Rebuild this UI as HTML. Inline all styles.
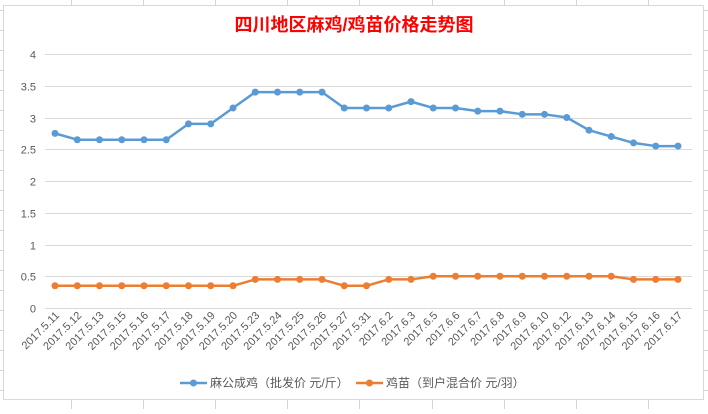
<!DOCTYPE html>
<html><head><meta charset="utf-8"><style>
body{margin:0;background:#fff;width:708px;height:409px;overflow:hidden;font-family:"Liberation Sans","Noto Sans CJK SC",sans-serif}
</style></head><body>
<svg width="708" height="409" xmlns="http://www.w3.org/2000/svg">
<g id="sheet" stroke="#d4d4d4" stroke-width="1"></g>
<rect x="3.5" y="5.5" width="700" height="394" fill="#fff" stroke="#d9d9d9"/>
<text x="354" y="31" text-anchor="middle" font-size="18" font-weight="bold" fill="#ff0000" font-family="Liberation Sans,'Noto Sans CJK SC',sans-serif">四川地区麻鸡/鸡苗价格走势图</text>
<g id="grid"></g>
<g id="ylab" font-size="11" fill="#595959" text-anchor="end"></g>
<g id="xlab" font-size="11" fill="#595959" text-anchor="end"></g>
<g id="series"></g>
<g font-size="12" fill="#595959">
<g><line x1="180" y1="383" x2="207" y2="383" stroke="#5b9bd5" stroke-width="2.5"/><circle cx="193.5" cy="383" r="3.5" fill="#5b9bd5"/><text x="210" y="387">麻公成鸡（批发价 元/斤）</text></g>
<g><line x1="356" y1="383" x2="383" y2="383" stroke="#ed7d31" stroke-width="2.5"/><circle cx="369.5" cy="383" r="3.5" fill="#ed7d31"/><text x="386" y="387">鸡苗（到户混合价 元/羽）</text></g>
</g>
</svg>
<script>
const categories=["2017.5.11","2017.5.12","2017.5.13","2017.5.15","2017.5.16","2017.5.17","2017.5.18","2017.5.19","2017.5.20","2017.5.23","2017.5.24","2017.5.25","2017.5.26","2017.5.27","2017.5.31","2017.6.2","2017.6.3","2017.6.5","2017.6.6","2017.6.7","2017.6.8","2017.6.9","2017.6.10","2017.6.12","2017.6.13","2017.6.14","2017.6.15","2017.6.16","2017.6.17"];
const broiler=[2.75,2.65,2.65,2.65,2.65,2.65,2.9,2.9,3.15,3.4,3.4,3.4,3.4,3.15,3.15,3.15,3.25,3.15,3.15,3.1,3.1,3.05,3.05,3.0,2.8,2.7,2.6,2.55,2.55];
const chick=[0.35,0.35,0.35,0.35,0.35,0.35,0.35,0.35,0.35,0.45,0.45,0.45,0.45,0.35,0.35,0.45,0.45,0.5,0.5,0.5,0.5,0.5,0.5,0.5,0.5,0.5,0.45,0.45,0.45];
const yTicks=["0","0.5","1","1.5","2","2.5","3","3.5","4"];
const NS="http://www.w3.org/2000/svg";
const x0=55,x1=678,yb=308,yt=54,ymax=4;
const X=i=>x0+(x1-x0)*i/(categories.length-1);
const Y=v=>yb-(yb-yt)*v/ymax;
function mk(t,a,p){const e=document.createElementNS(NS,t);for(const k in a)e.setAttribute(k,a[k]);p.appendChild(e);return e;}
const sheet=document.getElementById('sheet');
for(let c=71;c<708;c+=72.1){const l=mk('line',{x1:Math.round(c)+.5,y1:0,x2:Math.round(c)+.5,y2:409},sheet);

}
for(let r=10;r<409;r+=20){const l=mk('line',{x1:0,y1:r+.5,x2:708,y2:r+.5},sheet);

}
const grid=document.getElementById('grid'),yl=document.getElementById('ylab');
yTicks.forEach(t=>{const y=Math.round(Y(+t))+.5;
const l=mk('line',{x1:45,y1:y,x2:692,y2:y,stroke:'#d9d9d9'},grid);


const tx=mk('text',{x:36,y:y+4},yl);tx.textContent=t;

});
const xl=document.getElementById('xlab');
categories.forEach((c,i)=>{const x=X(i)+5,y=316;
const t=mk('text',{x:x,y:y,transform:`rotate(-45 ${x} ${y})`},xl);t.textContent=c;

});
const ser=document.getElementById('series');
[[broiler,'#5b9bd5','broiler'],[chick,'#ed7d31','chick']].forEach(([d,col,n])=>{
const g=mk('g',{},ser);


const p=mk('polyline',{points:d.map((v,i)=>X(i)+','+Y(v)).join(' '),fill:'none',stroke:col,'stroke-width':2.5,'stroke-linejoin':'round'},g);


d.forEach((v,i)=>{const c=mk('circle',{cx:X(i),cy:Y(v),r:3.5,fill:col},g);

});
});
</script>
</body></html>
